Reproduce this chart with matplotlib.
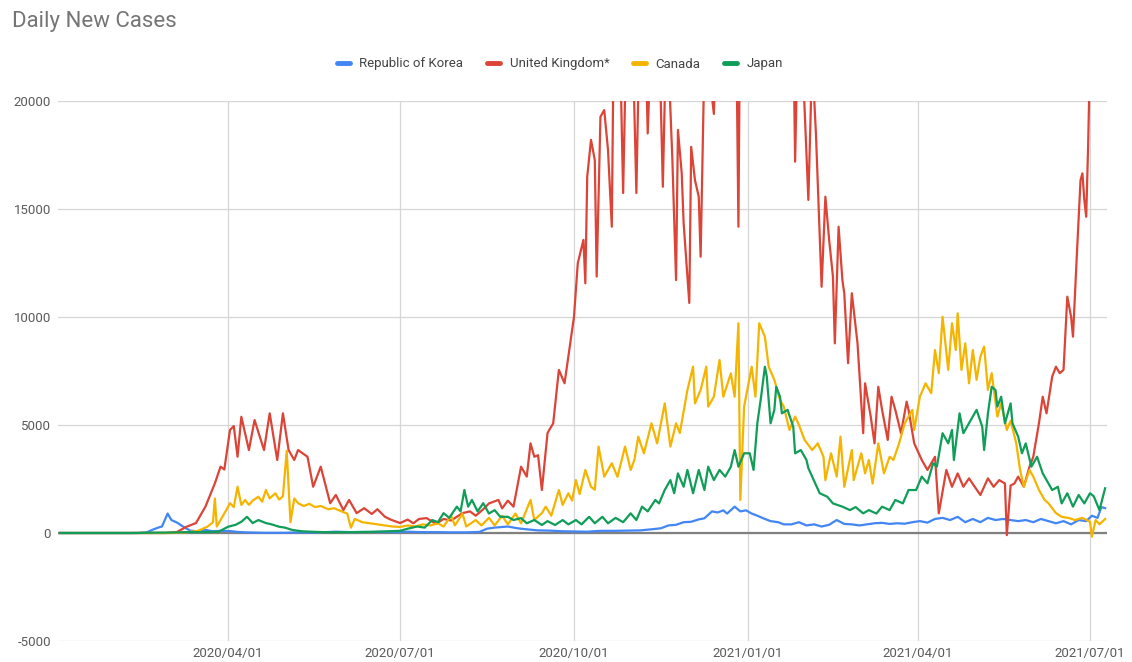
import pandas as pd
import matplotlib
matplotlib.use("Agg")
import matplotlib.pyplot as plt
from matplotlib.lines import Line2D

plt.rcParams['font.family'] = ['Roboto', 'DejaVu Sans']

series_names = ["Republic of Korea", "United Kingdom*", "Canada", "Japan"]
series_colors = ["#4285F4", "#DB4437", "#F4B400", "#0F9D58"]

# (date, daily new cases)
korea = [
    ("2020-01-03", 0), ("2020-02-14", 0), ("2020-02-18", 30), ("2020-02-21", 150),
    ("2020-02-24", 250), ("2020-02-26", 300), ("2020-02-29", 900), ("2020-03-02", 600),
    ("2020-03-05", 480), ("2020-03-09", 250), ("2020-03-12", 110), ("2020-03-16", 80),
    ("2020-03-20", 140), ("2020-03-24", 80), ("2020-03-28", 100), ("2020-04-02", 90),
    ("2020-04-06", 50), ("2020-04-10", 30), ("2020-04-15", 20), ("2020-04-20", 10),
    ("2020-05-01", 10), ("2020-05-10", 30), ("2020-05-15", 15), ("2020-05-28", 60),
    ("2020-06-05", 40), ("2020-06-12", 50), ("2020-06-20", 50), ("2020-06-28", 40),
    ("2020-07-05", 60), ("2020-07-12", 40), ("2020-07-20", 40), ("2020-07-27", 30),
    ("2020-08-05", 30), ("2020-08-12", 50), ("2020-08-16", 200), ("2020-08-20", 250),
    ("2020-08-27", 300), ("2020-09-01", 220), ("2020-09-06", 170), ("2020-09-12", 120),
    ("2020-09-18", 110), ("2020-09-25", 80), ("2020-10-02", 70), ("2020-10-08", 60),
    ("2020-10-15", 100), ("2020-10-22", 100), ("2020-10-29", 110), ("2020-11-05", 120),
    ("2020-11-12", 180), ("2020-11-16", 220), ("2020-11-20", 350), ("2020-11-24", 380),
    ("2020-11-28", 500), ("2020-12-02", 520), ("2020-12-06", 630), ("2020-12-09", 680),
    ("2020-12-13", 1000), ("2020-12-16", 950), ("2020-12-19", 1050), ("2020-12-21", 900),
    ("2020-12-25", 1220), ("2020-12-28", 1000), ("2020-12-31", 1050), ("2021-01-03", 900),
    ("2021-01-06", 800), ("2021-01-10", 650), ("2021-01-13", 550), ("2021-01-17", 500),
    ("2021-01-20", 400), ("2021-01-24", 400), ("2021-01-28", 500), ("2021-02-01", 350),
    ("2021-02-05", 400), ("2021-02-09", 300), ("2021-02-13", 380), ("2021-02-17", 600),
    ("2021-02-21", 420), ("2021-02-25", 400), ("2021-03-01", 350), ("2021-03-05", 400),
    ("2021-03-09", 450), ("2021-03-13", 470), ("2021-03-17", 420), ("2021-03-21", 450),
    ("2021-03-25", 430), ("2021-03-29", 500), ("2021-04-02", 550), ("2021-04-06", 480),
    ("2021-04-10", 650), ("2021-04-14", 700), ("2021-04-18", 600), ("2021-04-22", 750),
    ("2021-04-26", 500), ("2021-04-30", 650), ("2021-05-04", 500), ("2021-05-08", 700),
    ("2021-05-12", 600), ("2021-05-16", 650), ("2021-05-20", 600), ("2021-05-24", 550),
    ("2021-05-28", 600), ("2021-06-01", 500), ("2021-06-05", 650), ("2021-06-09", 550),
    ("2021-06-13", 450), ("2021-06-17", 550), ("2021-06-21", 400), ("2021-06-25", 600),
    ("2021-06-29", 550), ("2021-07-02", 800), ("2021-07-05", 700), ("2021-07-07", 1200),
    ("2021-07-09", 1150),
]

uk = [
    ("2020-01-03", 0), ("2020-02-28", 0), ("2020-03-05", 50), ("2020-03-10", 290),
    ("2020-03-15", 460), ("2020-03-20", 1220), ("2020-03-25", 2300), ("2020-03-28", 3070),
    ("2020-03-30", 2940), ("2020-04-02", 4770), ("2020-04-04", 4950), ("2020-04-06", 3530),
    ("2020-04-08", 5380), ("2020-04-12", 3840), ("2020-04-15", 5230), ("2020-04-20", 3840),
    ("2020-04-23", 5540), ("2020-04-27", 3380), ("2020-04-30", 5540), ("2020-05-03", 3840),
    ("2020-05-06", 3380), ("2020-05-08", 3840), ("2020-05-13", 3530), ("2020-05-16", 2140),
    ("2020-05-20", 3070), ("2020-05-25", 1380), ("2020-05-28", 1760), ("2020-06-01", 1060),
    ("2020-06-04", 1530), ("2020-06-08", 920), ("2020-06-12", 1150), ("2020-06-16", 880),
    ("2020-06-19", 1100), ("2020-06-23", 750), ("2020-06-26", 620), ("2020-07-01", 460),
    ("2020-07-05", 620), ("2020-07-08", 450), ("2020-07-11", 650), ("2020-07-15", 690),
    ("2020-07-20", 420), ("2020-07-24", 650), ("2020-07-28", 580), ("2020-08-03", 920),
    ("2020-08-07", 1000), ("2020-08-10", 800), ("2020-08-14", 1100), ("2020-08-17", 1370),
    ("2020-08-22", 1530), ("2020-08-24", 1140), ("2020-08-27", 1500), ("2020-08-30", 1220),
    ("2020-09-03", 3070), ("2020-09-06", 2610), ("2020-09-08", 4150), ("2020-09-10", 3530),
    ("2020-09-12", 3600), ("2020-09-14", 1990), ("2020-09-17", 4630), ("2020-09-20", 5080),
    ("2020-09-23", 7550), ("2020-09-26", 6930), ("2020-10-01", 10010), ("2020-10-03", 12490),
    ("2020-10-06", 13570), ("2020-10-07", 11560), ("2020-10-08", 16500), ("2020-10-10", 18200),
    ("2020-10-12", 17270), ("2020-10-13", 11870), ("2020-10-15", 19270), ("2020-10-17", 19580),
    ("2020-10-19", 17730), ("2020-10-21", 14180), ("2020-10-22", 23000), ("2020-10-25", 24000),
    ("2020-10-27", 15740), ("2020-10-29", 24500), ("2020-11-01", 23000), ("2020-11-03", 15740),
    ("2020-11-05", 25000), ("2020-11-07", 26000), ("2020-11-09", 18500), ("2020-11-11", 23500),
    ("2020-11-14", 27000), ("2020-11-17", 16030), ("2020-11-19", 24000), ("2020-11-22", 17420),
    ("2020-11-24", 11710), ("2020-11-25", 18660), ("2020-11-27", 16650), ("2020-11-28", 14350),
    ("2020-12-01", 10650), ("2020-12-02", 17880), ("2020-12-04", 16340), ("2020-12-06", 15570),
    ("2020-12-07", 12790), ("2020-12-09", 22000), ("2020-12-12", 21000), ("2020-12-14", 19400),
    ("2020-12-16", 25000), ("2020-12-20", 35000), ("2020-12-24", 38000), ("2020-12-27", 14180),
    ("2020-12-30", 50000), ("2021-01-05", 60000), ("2021-01-10", 55000), ("2021-01-15", 45000),
    ("2021-01-20", 38000), ("2021-01-24", 30000), ("2021-01-26", 17190), ("2021-01-28", 26000),
    ("2021-02-02", 15420), ("2021-02-04", 22000), ("2021-02-06", 18500), ("2021-02-09", 11400),
    ("2021-02-11", 15570), ("2021-02-13", 13570), ("2021-02-15", 11870), ("2021-02-16", 8780),
    ("2021-02-18", 14180), ("2021-02-20", 11710), ("2021-02-21", 11100), ("2021-02-23", 7860),
    ("2021-02-25", 11100), ("2021-02-28", 8780), ("2021-03-03", 4620), ("2021-03-04", 6930),
    ("2021-03-07", 5390), ("2021-03-09", 4150), ("2021-03-11", 6770), ("2021-03-13", 5700),
    ("2021-03-16", 4310), ("2021-03-18", 6310), ("2021-03-20", 5700), ("2021-03-23", 4620),
    ("2021-03-26", 6080), ("2021-03-27", 5700), ("2021-03-30", 4150), ("2021-04-03", 3380),
    ("2021-04-06", 2920), ("2021-04-10", 3530), ("2021-04-12", 910), ("2021-04-16", 2920),
    ("2021-04-19", 2140), ("2021-04-22", 2760), ("2021-04-25", 2140), ("2021-04-28", 2530),
    ("2021-05-01", 2140), ("2021-05-04", 1760), ("2021-05-08", 2530), ("2021-05-11", 2140),
    ("2021-05-14", 2450), ("2021-05-17", 2290), ("2021-05-18", -100), ("2021-05-20", 2200),
    ("2021-05-22", 2290), ("2021-05-24", 2610), ("2021-05-27", 2140), ("2021-05-30", 3070),
    ("2021-06-01", 3530), ("2021-06-04", 5080), ("2021-06-06", 6310), ("2021-06-08", 5540),
    ("2021-06-11", 7240), ("2021-06-13", 7700), ("2021-06-15", 7400), ("2021-06-17", 7550),
    ("2021-06-19", 10940), ("2021-06-21", 10010), ("2021-06-22", 9090), ("2021-06-24", 12790),
    ("2021-06-26", 16340), ("2021-06-27", 16650), ("2021-06-28", 15420), ("2021-06-29", 14640),
    ("2021-06-30", 17880), ("2021-07-01", 22000), ("2021-07-05", 25000), ("2021-07-09", 27000),
]

canada = [
    ("2020-01-03", 0), ("2020-03-01", 0), ("2020-03-10", 30), ("2020-03-16", 100),
    ("2020-03-21", 290), ("2020-03-24", 500), ("2020-03-25", 1600), ("2020-03-26", 300),
    ("2020-03-28", 600), ("2020-03-31", 1060), ("2020-04-02", 1380), ("2020-04-04", 1200),
    ("2020-04-06", 2140), ("2020-04-08", 1300), ("2020-04-10", 1530), ("2020-04-12", 1300),
    ("2020-04-14", 1500), ("2020-04-17", 1680), ("2020-04-19", 1450), ("2020-04-21", 1990),
    ("2020-04-23", 1600), ("2020-04-26", 1840), ("2020-04-28", 1550), ("2020-04-30", 1700),
    ("2020-05-02", 3800), ("2020-05-04", 500), ("2020-05-06", 1600), ("2020-05-08", 1380),
    ("2020-05-11", 1250), ("2020-05-14", 1350), ("2020-05-17", 1200), ("2020-05-20", 1250),
    ("2020-05-24", 1100), ("2020-05-27", 1150), ("2020-05-31", 1000), ("2020-06-03", 900),
    ("2020-06-05", 250), ("2020-06-07", 650), ("2020-06-11", 500), ("2020-06-15", 450),
    ("2020-06-19", 400), ("2020-06-23", 350), ("2020-06-27", 300), ("2020-07-01", 280),
    ("2020-07-05", 350), ("2020-07-09", 300), ("2020-07-13", 400), ("2020-07-17", 350),
    ("2020-07-21", 450), ("2020-07-24", 300), ("2020-07-28", 800), ("2020-07-30", 350),
    ("2020-08-03", 900), ("2020-08-05", 300), ("2020-08-10", 600), ("2020-08-13", 350),
    ("2020-08-17", 700), ("2020-08-20", 350), ("2020-08-24", 800), ("2020-08-27", 400),
    ("2020-08-31", 900), ("2020-09-03", 450), ("2020-09-08", 1530), ("2020-09-10", 600),
    ("2020-09-14", 920), ("2020-09-16", 1220), ("2020-09-19", 800), ("2020-09-23", 1990),
    ("2020-09-25", 1300), ("2020-09-28", 1840), ("2020-09-30", 1500), ("2020-10-02", 2450),
    ("2020-10-04", 1800), ("2020-10-07", 2920), ("2020-10-10", 2140), ("2020-10-12", 2000),
    ("2020-10-14", 4000), ("2020-10-17", 2610), ("2020-10-21", 3230), ("2020-10-24", 2600),
    ("2020-10-28", 4000), ("2020-10-31", 2920), ("2020-11-02", 3400), ("2020-11-04", 4460),
    ("2020-11-07", 3690), ("2020-11-11", 5080), ("2020-11-14", 4150), ("2020-11-18", 6000),
    ("2020-11-21", 4000), ("2020-11-24", 5080), ("2020-11-26", 4630), ("2020-11-30", 6620),
    ("2020-12-03", 7700), ("2020-12-04", 6000), ("2020-12-07", 6620), ("2020-12-10", 7700),
    ("2020-12-11", 5850), ("2020-12-14", 6310), ("2020-12-17", 8010), ("2020-12-19", 6310),
    ("2020-12-23", 7390), ("2020-12-25", 6310), ("2020-12-27", 9710), ("2020-12-28", 1530),
    ("2020-12-30", 5850), ("2021-01-03", 7700), ("2021-01-05", 6310), ("2021-01-07", 9710),
    ("2021-01-10", 9090), ("2021-01-12", 7700), ("2021-01-15", 7090), ("2021-01-18", 6160),
    ("2021-01-20", 5850), ("2021-01-23", 4770), ("2021-01-26", 5390), ("2021-01-28", 5000),
    ("2021-01-31", 4310), ("2021-02-04", 3840), ("2021-02-07", 4150), ("2021-02-10", 3530),
    ("2021-02-11", 2450), ("2021-02-14", 3690), ("2021-02-17", 2610), ("2021-02-19", 4460),
    ("2021-02-21", 2140), ("2021-02-25", 3840), ("2021-02-26", 2450), ("2021-03-02", 3690),
    ("2021-03-04", 2760), ("2021-03-06", 3380), ("2021-03-08", 2290), ("2021-03-11", 4150),
    ("2021-03-14", 2760), ("2021-03-17", 3530), ("2021-03-19", 3380), ("2021-03-22", 4150),
    ("2021-03-25", 5080), ("2021-03-29", 5700), ("2021-03-30", 4770), ("2021-04-02", 6310),
    ("2021-04-05", 6930), ("2021-04-08", 6470), ("2021-04-10", 8470), ("2021-04-12", 7400),
    ("2021-04-14", 10010), ("2021-04-17", 7550), ("2021-04-19", 9710), ("2021-04-21", 8470),
    ("2021-04-22", 10170), ("2021-04-24", 7550), ("2021-04-26", 8780), ("2021-04-28", 6930),
    ("2021-04-30", 8470), ("2021-05-02", 7090), ("2021-05-04", 8170), ("2021-05-06", 8630),
    ("2021-05-08", 6620), ("2021-05-10", 7400), ("2021-05-13", 5390), ("2021-05-15", 6000),
    ("2021-05-18", 4770), ("2021-05-20", 5200), ("2021-05-23", 4150), ("2021-05-25", 2920),
    ("2021-05-27", 2140), ("2021-05-30", 2920), ("2021-06-01", 2610), ("2021-06-04", 1990),
    ("2021-06-07", 1530), ("2021-06-09", 1380), ("2021-06-13", 920), ("2021-06-16", 750),
    ("2021-06-20", 690), ("2021-06-23", 600), ("2021-06-27", 700), ("2021-07-01", 520),
    ("2021-07-02", -170), ("2021-07-04", 600), ("2021-07-06", 400), ("2021-07-09", 650),
]

japan = [
    ("2020-01-03", 0), ("2020-02-10", 0), ("2020-02-20", 15), ("2020-03-01", 20),
    ("2020-03-10", 40), ("2020-03-20", 40), ("2020-03-27", 60), ("2020-04-01", 290),
    ("2020-04-05", 380), ("2020-04-08", 520), ("2020-04-11", 750), ("2020-04-14", 460),
    ("2020-04-17", 600), ("2020-04-21", 460), ("2020-04-24", 400), ("2020-04-28", 290),
    ("2020-05-01", 250), ("2020-05-05", 140), ("2020-05-10", 80), ("2020-05-15", 60),
    ("2020-05-25", 30), ("2020-06-05", 40), ("2020-06-15", 50), ("2020-06-25", 80),
    ("2020-07-01", 100), ("2020-07-05", 200), ("2020-07-10", 300), ("2020-07-14", 250),
    ("2020-07-18", 600), ("2020-07-21", 500), ("2020-07-24", 920), ("2020-07-27", 700),
    ("2020-07-31", 1220), ("2020-08-02", 1000), ("2020-08-04", 1990), ("2020-08-06", 1220),
    ("2020-08-08", 1530), ("2020-08-11", 1000), ("2020-08-14", 1380), ("2020-08-17", 900),
    ("2020-08-20", 1060), ("2020-08-23", 750), ("2020-08-27", 750), ("2020-08-30", 600),
    ("2020-09-03", 690), ("2020-09-06", 450), ("2020-09-10", 600), ("2020-09-14", 370),
    ("2020-09-17", 550), ("2020-09-21", 370), ("2020-09-25", 600), ("2020-09-28", 400),
    ("2020-10-02", 600), ("2020-10-05", 400), ("2020-10-09", 750), ("2020-10-12", 450),
    ("2020-10-16", 750), ("2020-10-19", 450), ("2020-10-23", 700), ("2020-10-27", 500),
    ("2020-10-31", 910), ("2020-11-03", 600), ("2020-11-06", 1220), ("2020-11-09", 1000),
    ("2020-11-13", 1530), ("2020-11-15", 1370), ("2020-11-18", 1990), ("2020-11-21", 2450),
    ("2020-11-23", 1840), ("2020-11-25", 2760), ("2020-11-28", 2140), ("2020-11-30", 2920),
    ("2020-12-03", 1840), ("2020-12-06", 2920), ("2020-12-09", 1990), ("2020-12-11", 3070),
    ("2020-12-14", 2450), ("2020-12-17", 2920), ("2020-12-20", 2610), ("2020-12-23", 3070),
    ("2020-12-25", 3840), ("2020-12-27", 3070), ("2020-12-30", 3690), ("2021-01-02", 3690),
    ("2021-01-04", 2920), ("2021-01-06", 5080), ("2021-01-08", 6310), ("2021-01-10", 7700),
    ("2021-01-11", 7240), ("2021-01-13", 5080), ("2021-01-15", 5700), ("2021-01-16", 6770),
    ("2021-01-18", 6310), ("2021-01-19", 5540), ("2021-01-22", 5700), ("2021-01-25", 4920),
    ("2021-01-26", 3690), ("2021-01-29", 3840), ("2021-02-01", 3380), ("2021-02-02", 3000),
    ("2021-02-04", 2610), ("2021-02-08", 1840), ("2021-02-12", 1680), ("2021-02-15", 1370),
    ("2021-02-20", 1220), ("2021-02-24", 1060), ("2021-02-27", 1200), ("2021-03-03", 910),
    ("2021-03-06", 1060), ("2021-03-10", 900), ("2021-03-13", 1220), ("2021-03-17", 1060),
    ("2021-03-20", 1530), ("2021-03-24", 1370), ("2021-03-27", 1990), ("2021-03-31", 1990),
    ("2021-04-03", 2610), ("2021-04-06", 2300), ("2021-04-09", 3230), ("2021-04-11", 3070),
    ("2021-04-14", 4620), ("2021-04-17", 4150), ("2021-04-19", 4770), ("2021-04-20", 3380),
    ("2021-04-23", 5540), ("2021-04-25", 4620), ("2021-04-28", 5080), ("2021-05-02", 5700),
    ("2021-05-05", 4920), ("2021-05-06", 3840), ("2021-05-08", 5540), ("2021-05-10", 6770),
    ("2021-05-12", 6620), ("2021-05-13", 5850), ("2021-05-15", 6310), ("2021-05-17", 5080),
    ("2021-05-20", 6000), ("2021-05-21", 5080), ("2021-05-24", 4460), ("2021-05-26", 3690),
    ("2021-05-28", 4150), ("2021-05-31", 3070), ("2021-06-03", 3530), ("2021-06-06", 2760),
    ("2021-06-08", 2450), ("2021-06-11", 1990), ("2021-06-14", 2140), ("2021-06-16", 1370),
    ("2021-06-19", 1840), ("2021-06-22", 1220), ("2021-06-25", 1760), ("2021-06-28", 1370),
    ("2021-07-01", 1840), ("2021-07-03", 1700), ("2021-07-06", 1060), ("2021-07-09", 2070),
]

y_ticks = [-5000, 0, 5000, 10000, 15000, 20000]
x_ticks = ["2020-04-01", "2020-07-01", "2020-10-01", "2021-01-01", "2021-04-01", "2021-07-01"]

W, H = 1132, 662
fig = plt.figure(figsize=(W / 100, H / 100), dpi=100)
ax = fig.add_axes([58 / W, 21 / H, (1107 - 58) / W, (641 - 101) / H])

for data, name, color in zip([korea, uk, canada, japan], series_names, series_colors):
    dates = pd.to_datetime([d for d, v in data])
    vals = [v for d, v in data]
    ax.plot(dates, vals, color=color, lw=1.6, label=name, solid_joinstyle='round')

ax.set_ylim(-5000, 20000)
ax.set_xlim(pd.Timestamp("2020-01-02"), pd.Timestamp("2021-07-10"))
ax.set_yticks(y_ticks)
ax.set_yticklabels([str(t) for t in y_ticks])
ax.set_xticks(pd.to_datetime(x_ticks))
ax.set_xticklabels([t.replace("-", "/") for t in x_ticks])

ax.grid(True, color="#d6d6d6", lw=0.9)
ax.set_axisbelow(True)
ax.axhline(0, color="#808080", lw=1.6, zorder=1.5)
for s in ax.spines.values():
    s.set_visible(False)
ax.tick_params(length=0, labelsize=9.5, colors="#5a5a5a")
ax.tick_params(axis="y", pad=5)
ax.tick_params(axis="x", pad=4)

fig.text(12 / W, 1 - 22 / H, "Daily New Cases", fontsize=16, color="#757575",
         va="center", ha="left")

handles = [Line2D([0], [0], color=c, lw=3.5, solid_capstyle="round") for c in series_colors]
fig.legend(handles, series_names, loc="center", bbox_to_anchor=(560 / W, 1 - 64 / H),
           ncol=4, frameon=False, fontsize=9.5, handlelength=1.0, handletextpad=0.7,
           columnspacing=1.8, labelcolor="#444444")

fig.savefig("out.png", dpi=100)
